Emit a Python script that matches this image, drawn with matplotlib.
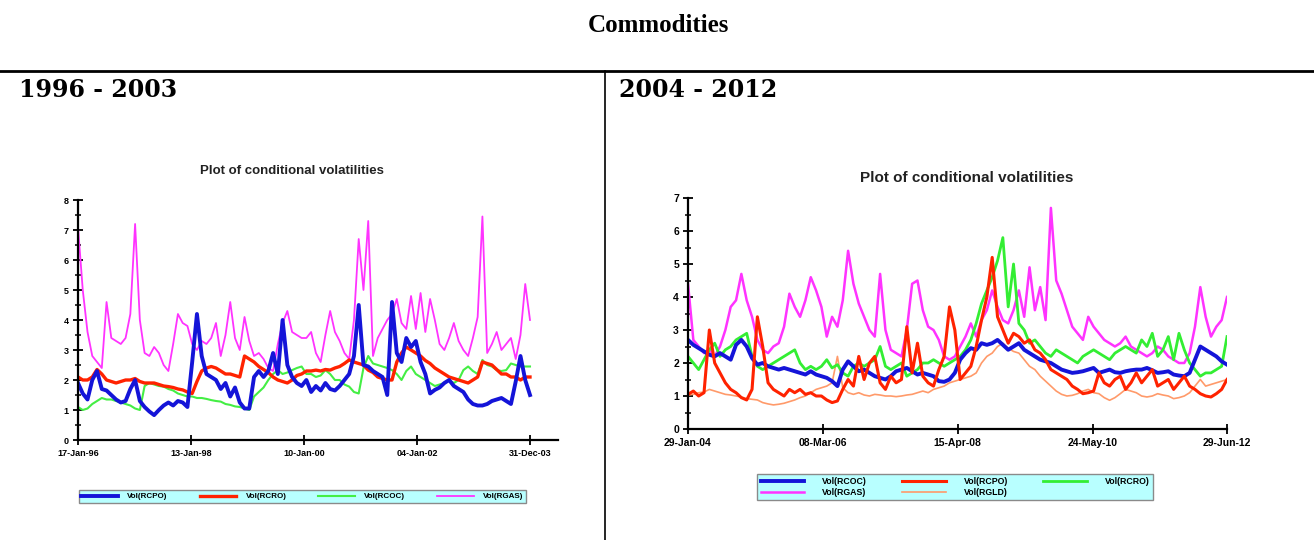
import pandas as pd
import matplotlib
matplotlib.use("Agg")
import matplotlib.pyplot as plt
from matplotlib.lines import Line2D
from matplotlib.ticker import MultipleLocator

# ---- data (roughly monthly) ----
# 1996 - 2003
left_start, left_end = "1996-01-17", "2003-12-31"
vol_rcpo_96 = [1.9, 1.55, 1.35, 2.0, 2.3, 1.7, 1.65, 1.5, 1.35, 1.25, 1.3, 1.7,
               2.0, 1.3, 1.1, 0.95, 0.83, 1.0, 1.15, 1.25, 1.15, 1.3, 1.25, 1.1,
               2.6, 4.2, 2.8, 2.2, 2.1, 2.0, 1.7, 1.9, 1.45, 1.75, 1.25, 1.05,
               1.05, 2.1, 2.3, 2.1, 2.3, 2.9, 2.2, 4.0, 2.5, 2.1, 1.9, 1.8,
               2.0, 1.6, 1.8, 1.65, 1.9, 1.7, 1.65, 1.8, 2.0, 2.2, 2.8, 4.5,
               2.5, 2.45, 2.3, 2.2, 2.1, 1.5, 4.6, 2.9, 2.6, 3.4, 3.1, 3.3,
               2.6, 2.2, 1.55, 1.67, 1.75, 1.9, 2.0, 1.8, 1.7, 1.6, 1.35, 1.2,
               1.15, 1.15, 1.2, 1.3, 1.35, 1.4, 1.3, 1.2, 1.95, 2.8, 2.0, 1.5]
vol_rcro_96 = [2.1, 2.0, 2.0, 2.1, 2.35, 2.2, 2.0, 1.95, 1.9, 1.95, 2.0, 2.0,
               2.05, 1.95, 1.9, 1.9, 1.9, 1.85, 1.8, 1.78, 1.75, 1.7, 1.67, 1.6,
               1.55, 1.95, 2.3, 2.4, 2.45, 2.4, 2.3, 2.2, 2.2, 2.15, 2.1, 2.8,
               2.7, 2.6, 2.45, 2.35, 2.25, 2.1, 2.0, 1.95, 1.9, 2.0, 2.15, 2.2,
               2.3, 2.3, 2.33, 2.3, 2.35, 2.33, 2.4, 2.45, 2.55, 2.67, 2.6, 2.55,
               2.5, 2.33, 2.25, 2.1, 2.05, 2.0, 2.0, 2.6, 2.9, 3.1, 3.0, 2.9,
               2.8, 2.65, 2.55, 2.4, 2.3, 2.2, 2.1, 2.05, 2.0, 1.95, 1.9, 2.0,
               2.1, 2.6, 2.55, 2.5, 2.35, 2.2, 2.2, 2.1, 2.1, 2.0, 2.1, 2.1]
vol_rcoc_96 = [1.1, 1.0, 1.05, 1.2, 1.3, 1.4, 1.35, 1.35, 1.3, 1.25, 1.2, 1.15,
               1.05, 1.0, 1.8, 1.9, 1.85, 1.8, 1.78, 1.7, 1.65, 1.55, 1.5, 1.45,
               1.45, 1.4, 1.4, 1.37, 1.33, 1.3, 1.28, 1.2, 1.17, 1.12, 1.1, 1.05,
               1.0, 1.45, 1.6, 1.75, 2.0, 2.2, 2.33, 2.2, 2.25, 2.33, 2.4, 2.45,
               2.2, 2.2, 2.1, 2.15, 2.33, 2.2, 2.0, 2.0, 1.85, 1.78, 1.6, 1.55,
               2.4, 2.8, 2.55, 2.5, 2.45, 2.4, 2.33, 2.2, 2.0, 2.3, 2.45, 2.2,
               2.1, 2.0, 1.9, 1.8, 1.85, 1.9, 2.0, 1.9, 2.0, 2.33, 2.45, 2.3,
               2.2, 2.67, 2.5, 2.45, 2.33, 2.3, 2.33, 2.55, 2.5, 2.45, 2.45, 2.45]
vol_rgas_96 = [7.1, 5.0, 3.6, 2.8, 2.6, 2.4, 4.6, 3.4, 3.3, 3.2, 3.4, 4.2,
               7.2, 4.0, 2.9, 2.8, 3.1, 2.9, 2.5, 2.3, 3.2, 4.2, 3.9, 3.8,
               3.2, 3.0, 3.3, 3.2, 3.4, 3.9, 2.8, 3.5, 4.6, 3.4, 3.0, 4.1,
               3.3, 2.8, 2.9, 2.7, 2.4, 2.3, 3.2, 3.9, 4.3, 3.6, 3.5, 3.4,
               3.4, 3.6, 2.9, 2.6, 3.5, 4.3, 3.6, 3.3, 2.9, 2.7, 4.0, 6.7,
               5.0, 7.3, 2.8, 3.4, 3.7, 4.0, 4.2, 4.7, 3.9, 3.7, 4.8, 3.7,
               4.9, 3.6, 4.7, 4.0, 3.2, 3.0, 3.4, 3.9, 3.3, 3.0, 2.8, 3.4,
               4.1, 7.45, 2.9, 3.2, 3.6, 3.0, 3.2, 3.4, 2.7, 3.5, 5.2, 4.0]
left_ticks = ["1996-01-17", "1998-01-13", "2000-01-10", "2002-01-04", "2003-12-31"]
left_ticklabels = ["17-Jan-96", "13-Jan-98", "10-Jan-00", "04-Jan-02", "31-Dec-03"]

# 2004 - 2012
right_start, right_end = "2004-01-29", "2012-06-29"
vol_rcoc_04 = [2.7, 2.55, 2.45, 2.35, 2.25, 2.2, 2.3, 2.2, 2.1, 2.55, 2.7, 2.5,
               2.15, 1.95, 2.0, 1.9, 1.85, 1.8, 1.85, 1.8, 1.75, 1.7, 1.65, 1.75,
               1.65, 1.6, 1.55, 1.45, 1.3, 1.8, 2.05, 1.9, 1.75, 1.8, 1.7, 1.6,
               1.55, 1.5, 1.6, 1.75, 1.8, 1.85, 1.75, 1.65, 1.7, 1.65, 1.6, 1.45,
               1.43, 1.5, 1.7, 2.1, 2.3, 2.45, 2.4, 2.6, 2.55, 2.6, 2.7, 2.55,
               2.4, 2.5, 2.6, 2.4, 2.3, 2.2, 2.1, 2.05, 2.0, 1.9, 1.8, 1.75,
               1.7, 1.72, 1.75, 1.8, 1.85, 1.7, 1.75, 1.8, 1.72, 1.7, 1.75, 1.78,
               1.8, 1.8, 1.85, 1.78, 1.7, 1.72, 1.75, 1.65, 1.62, 1.6, 1.7, 2.1,
               2.5, 2.4, 2.3, 2.2, 2.05, 1.95]
vol_rcpo_04 = [1.05, 1.15, 1.0, 1.1, 3.0, 2.0, 1.7, 1.4, 1.2, 1.1, 0.95, 0.88,
               1.2, 3.4, 2.5, 1.4, 1.2, 1.1, 1.0, 1.2, 1.1, 1.2, 1.05, 1.1,
               1.0, 1.0, 0.88, 0.8, 0.85, 1.2, 1.5, 1.3, 2.2, 1.5, 2.0, 2.2,
               1.4, 1.2, 1.6, 1.4, 1.5, 3.1, 1.7, 2.6, 1.6, 1.4, 1.3, 1.8,
               2.2, 3.7, 3.0, 1.5, 1.7, 1.9, 2.5, 3.3, 4.0, 5.2, 3.4, 3.0,
               2.6, 2.9, 2.8, 2.6, 2.7, 2.4, 2.3, 2.1, 1.8, 1.7, 1.6, 1.5,
               1.3, 1.2, 1.07, 1.1, 1.15, 1.7, 1.4, 1.3, 1.5, 1.6, 1.2, 1.4,
               1.7, 1.4, 1.6, 1.8, 1.3, 1.4, 1.5, 1.2, 1.4, 1.6, 1.3, 1.2,
               1.07, 1.0, 0.97, 1.07, 1.2, 1.5]
vol_rcro_04 = [2.2, 2.0, 1.8, 2.1, 2.4, 2.6, 2.2, 2.4, 2.5, 2.7, 2.8, 2.9,
               2.2, 1.9, 1.8, 1.9, 2.0, 2.1, 2.2, 2.3, 2.4, 2.0, 1.8, 1.9,
               1.8, 1.9, 2.1, 1.85, 1.95, 1.7, 1.6, 1.9, 2.0, 1.9, 2.0, 2.1,
               2.5, 1.9, 1.8, 1.9, 2.0, 1.6, 1.7, 1.8, 2.0, 2.0, 2.1, 2.0,
               1.9, 2.0, 2.1, 2.2, 2.4, 2.7, 3.2, 3.8, 4.2, 4.6, 5.1, 5.8,
               3.7, 5.0, 3.2, 3.0, 2.6, 2.7, 2.5, 2.3, 2.2, 2.4, 2.3, 2.2,
               2.1, 2.0, 2.2, 2.3, 2.4, 2.3, 2.2, 2.1, 2.3, 2.4, 2.5, 2.4,
               2.3, 2.7, 2.5, 2.9, 2.2, 2.4, 2.8, 2.1, 2.9, 2.4, 2.0, 1.8,
               1.6, 1.7, 1.7, 1.8, 1.9, 2.8]
vol_rgas_04 = [4.4, 2.7, 2.5, 2.3, 2.4, 2.2, 2.5, 3.0, 3.7, 3.9, 4.7, 3.9,
               3.4, 2.7, 2.4, 2.3, 2.5, 2.6, 3.1, 4.1, 3.7, 3.4, 3.9, 4.6,
               4.2, 3.7, 2.8, 3.4, 3.1, 3.9, 5.4, 4.4, 3.8, 3.4, 3.0, 2.8,
               4.7, 3.0, 2.4, 2.3, 2.2, 3.0, 4.4, 4.5, 3.6, 3.1, 3.0, 2.7,
               2.2, 2.1, 2.2, 2.5, 2.8, 3.2, 2.8, 3.3, 3.6, 4.2, 3.7, 3.3,
               3.2, 3.6, 4.2, 3.4, 4.9, 3.6, 4.3, 3.3, 6.7, 4.5, 4.1, 3.6,
               3.1, 2.9, 2.7, 3.4, 3.1, 2.9, 2.7, 2.6, 2.5, 2.6, 2.8, 2.5,
               2.4, 2.3, 2.2, 2.3, 2.5, 2.4, 2.2, 2.1, 2.0, 2.0, 2.3, 3.1,
               4.3, 3.4, 2.8, 3.1, 3.3, 4.0]
vol_rgld_04 = [1.03, 1.05, 1.1, 1.12, 1.2, 1.15, 1.1, 1.05, 1.03, 1.0, 0.97, 0.92,
               0.9, 0.88, 0.8, 0.76, 0.73, 0.75, 0.78, 0.83, 0.88, 0.95, 1.0, 1.1,
               1.2, 1.25, 1.3, 1.4, 2.2, 1.25, 1.1, 1.05, 1.1, 1.03, 1.0, 1.05,
               1.03, 1.0, 1.0, 0.98, 1.0, 1.03, 1.05, 1.1, 1.15, 1.1, 1.2, 1.25,
               1.3, 1.4, 1.45, 1.5, 1.55, 1.6, 1.7, 2.0, 2.2, 2.3, 2.5, 2.6,
               2.45, 2.35, 2.3, 2.1, 1.9, 1.8, 1.6, 1.45, 1.3, 1.15, 1.05, 1.0,
               1.02, 1.07, 1.15, 1.2, 1.1, 1.07, 0.95, 0.87, 0.95, 1.07, 1.2, 1.15,
               1.1, 1.0, 0.97, 1.0, 1.07, 1.03, 1.0, 0.92, 0.95, 1.0, 1.1, 1.3,
               1.5, 1.3, 1.35, 1.4, 1.45, 1.5]
right_ticks = ["2004-01-29", "2006-03-08", "2008-04-15", "2010-05-24", "2012-06-29"]
right_ticklabels = ["29-Jan-04", "08-Mar-06", "15-Apr-08", "24-May-10", "29-Jun-12"]

W, H = 1314, 540


def box(x0, y0, x1, y1):
    # pixel box (origin top-left) -> figure fraction [l, b, w, h]
    return [x0 / W, 1 - y1 / H, (x1 - x0) / W, (y1 - y0) / H]


def style_axes(ax, ticks, ticklabels, size):
    for s in ["top", "right"]:
        ax.spines[s].set_visible(False)
    for s in ["left", "bottom"]:
        ax.spines[s].set_linewidth(1.6)
    ax.set_xticks(pd.to_datetime(ticks))
    ax.set_xticklabels(ticklabels)
    ax.yaxis.set_major_locator(MultipleLocator(1))
    ax.yaxis.set_minor_locator(MultipleLocator(0.5))
    ax.tick_params(which="major", direction="inout", length=7, width=1.3,
                   labelsize=size, pad=3)
    ax.tick_params(which="minor", direction="inout", length=5, width=1.1)
    for lab in ax.get_xticklabels() + ax.get_yticklabels():
        lab.set_fontweight("bold")
    ax.set_facecolor("none")


plt.rcParams["font.family"] = ["Liberation Sans", "DejaVu Sans"]
fig = plt.figure(figsize=(W / 100, H / 100), dpi=100)

# frame of the table
fig.text(658 / W, 1 - 25 / H, "Commodities", ha="center", va="center",
         fontsize=18, fontweight="bold", family="Liberation Serif")
fig.add_artist(Line2D([0, 1], [1 - 71 / H, 1 - 71 / H], color="black", lw=2))
fig.add_artist(Line2D([605 / W, 605 / W], [0, 1 - 71 / H], color="black", lw=1.2))
fig.text(19 / W, 1 - 90 / H, "1996 - 2003", ha="left", va="center",
         fontsize=17, fontweight="bold", family="DejaVu Serif")
fig.text(619 / W, 1 - 90 / H, "2004 - 2012", ha="left", va="center",
         fontsize=17, fontweight="bold", family="DejaVu Serif")

# ---- left chart ----
d1 = pd.date_range(left_start, left_end, periods=len(vol_rgas_96))
ax1 = fig.add_axes(box(78, 200, 558, 440))
l_gas, = ax1.plot(d1, vol_rgas_96, color="#ff33ff", lw=1.3)
l_coc, = ax1.plot(d1, vol_rcoc_96, color="#44ee44", lw=1.5)
l_cro, = ax1.plot(d1, vol_rcro_96, color="#ff2200", lw=2.4)
l_cpo, = ax1.plot(d1, vol_rcpo_96, color="#1414d8", lw=2.8)
ax1.set_xlim(pd.Timestamp(left_start), pd.Timestamp("2004-06-28"))
ax1.set_ylim(0, 8)
style_axes(ax1, left_ticks, left_ticklabels, 6.5)
fig.text(292 / W, 1 - 171 / H, "Plot of conditional volatilities",
         ha="center", va="center", fontsize=9.5, fontweight="bold",
         color="#222222")
fig.legend([l_cpo, l_cro, l_coc, l_gas],
           ["Vol(RCPO)", "Vol(RCRO)", "Vol(RCOC)", "Vol(RGAS)"],
           loc="center", bbox_to_anchor=box(79, 490, 526, 503), mode="expand",
           ncol=4, handlelength=4.5, frameon=True, fancybox=False,
           prop={"size": 5.8, "weight": "bold"},
           facecolor="#b8ffff", edgecolor="#8a8a8a", framealpha=1,
           borderpad=0.3, borderaxespad=0, handletextpad=1.2)

# ---- right chart ----
d2 = pd.date_range(right_start, right_end, periods=len(vol_rgas_04))
ax2 = fig.add_axes(box(688, 198, 1227, 429))
r_gld, = ax2.plot(d2, vol_rgld_04, color="#ff9a6a", lw=1.2)
r_gas, = ax2.plot(d2, vol_rgas_04, color="#ff33ff", lw=1.8)
r_cro, = ax2.plot(d2, vol_rcro_04, color="#33ee33", lw=2.0)
r_coc, = ax2.plot(d2, vol_rcoc_04, color="#1414d8", lw=2.8)
r_cpo, = ax2.plot(d2, vol_rcpo_04, color="#ff2200", lw=2.2)
ax2.set_xlim(pd.Timestamp(right_start), pd.Timestamp(right_end))
ax2.set_ylim(0, 7)
style_axes(ax2, right_ticks, right_ticklabels, 7.5)
fig.text(967 / W, 1 - 178 / H, "Plot of conditional volatilities",
         ha="center", va="center", fontsize=11, fontweight="bold",
         color="#222222")
fig.legend([r_coc, r_gas, r_cpo, r_gld, r_cro],
           ["Vol(RCOC)", "Vol(RGAS)", "Vol(RCPO)", "Vol(RGLD)", "Vol(RCRO)"],
           loc="center", bbox_to_anchor=box(757, 472, 1153, 502), mode="expand",
           ncol=3, handlelength=5, frameon=True, fancybox=False,
           prop={"size": 6.3, "weight": "bold"},
           facecolor="#b8ffff", edgecolor="#8a8a8a", framealpha=1,
           borderpad=0.4, labelspacing=0.2, borderaxespad=0, handletextpad=2)

fig.savefig("out.png", dpi=100)
